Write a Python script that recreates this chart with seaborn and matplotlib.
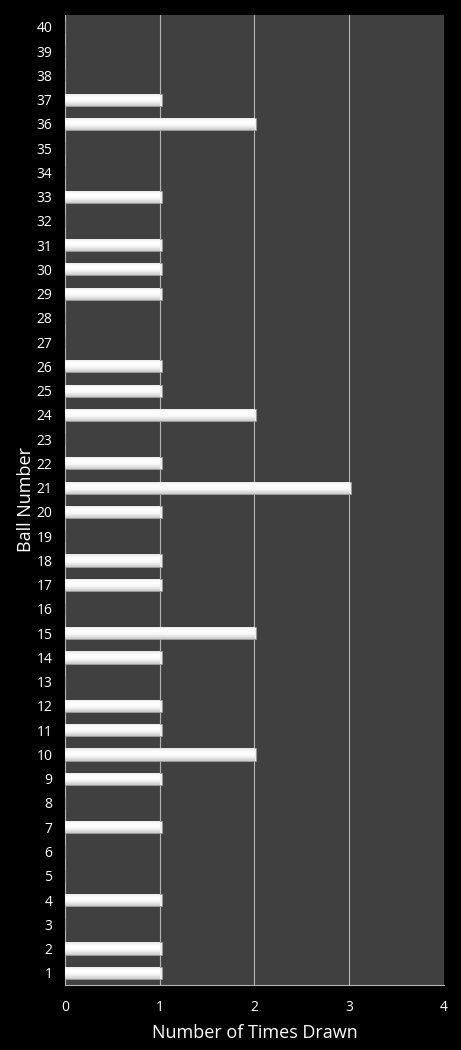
import numpy as np
import pandas as pd
import matplotlib
matplotlib.use("Agg")
import matplotlib.pyplot as plt
import seaborn as sns

# draws per ball number (1..40)
balls = list(range(1, 41))
times_drawn = [1, 1, 0, 1, 0, 0, 1, 0, 1, 2,
               1, 1, 0, 1, 2, 0, 1, 1, 0, 1,
               3, 1, 0, 2, 1, 1, 0, 0, 1, 1,
               1, 0, 1, 0, 0, 2, 1, 0, 0, 0]
x_ticks = [0, 1, 2, 3, 4]

df = pd.DataFrame({"Ball": [str(b) for b in balls], "Count": times_drawn})
order = [str(b) for b in reversed(balls)]

sns.set_theme(style="dark")
plt.rcParams["font.family"] = ["Open Sans", "DejaVu Sans"]

fig = plt.figure(figsize=(4.61, 10.5), dpi=100, facecolor="black")
ax = fig.add_axes([0.141, 0.062, 0.822, 0.924])
ax.set_facecolor("#404040")

sns.barplot(data=df, x="Count", y="Ball", order=order, orient="h",
            color="#eeeeee", width=0.5, ax=ax, zorder=3,
            edgecolor="#9a9a9a", linewidth=0.6)

# glossy vertical gradient inside each bar
grad = np.array([0.90, 0.97, 1.0, 1.0, 0.98, 0.95, 0.89, 0.80]).reshape(-1, 1)
for p in ax.patches:
    w = p.get_width()
    if w <= 0:
        continue
    x0, y0, h = p.get_x(), p.get_y(), p.get_height()
    im = ax.imshow(grad, cmap="gray", vmin=0, vmax=1, aspect="auto",
                   extent=[x0, x0 + w * 1.006 + 0.015, y0 + h, y0], zorder=4,
                   interpolation="bicubic")
    im.set_clip_path(p)
    p.set_width(w + 0.02)

ax.set_xlim(0, 4)
ax.set_ylim(len(order) - 0.5, -0.5)
ax.set_xticks(x_ticks)
ax.xaxis.grid(True, color="#b4b4b4", linewidth=0.8, zorder=1)
ax.yaxis.grid(False)
ax.set_axisbelow(True)

for s in ["top", "right"]:
    ax.spines[s].set_visible(False)
ax.spines["left"].set_color("#b4b4b4")
ax.spines["bottom"].set_color("#b4b4b4")
ax.spines["left"].set_linewidth(0.8)
ax.spines["bottom"].set_linewidth(0.8)

ax.tick_params(axis="both", colors="white", labelsize=10, length=0)
ax.tick_params(axis="x", pad=11)
ax.tick_params(axis="y", pad=9)
ax.set_xlabel("Number of Times Drawn", color="white", fontsize=13, labelpad=6)
ax.set_ylabel("Ball Number", color="white", fontsize=13)
ax.yaxis.set_label_coords(-0.078, 0.5)

fig.savefig("out.png", dpi=100, facecolor="black")
